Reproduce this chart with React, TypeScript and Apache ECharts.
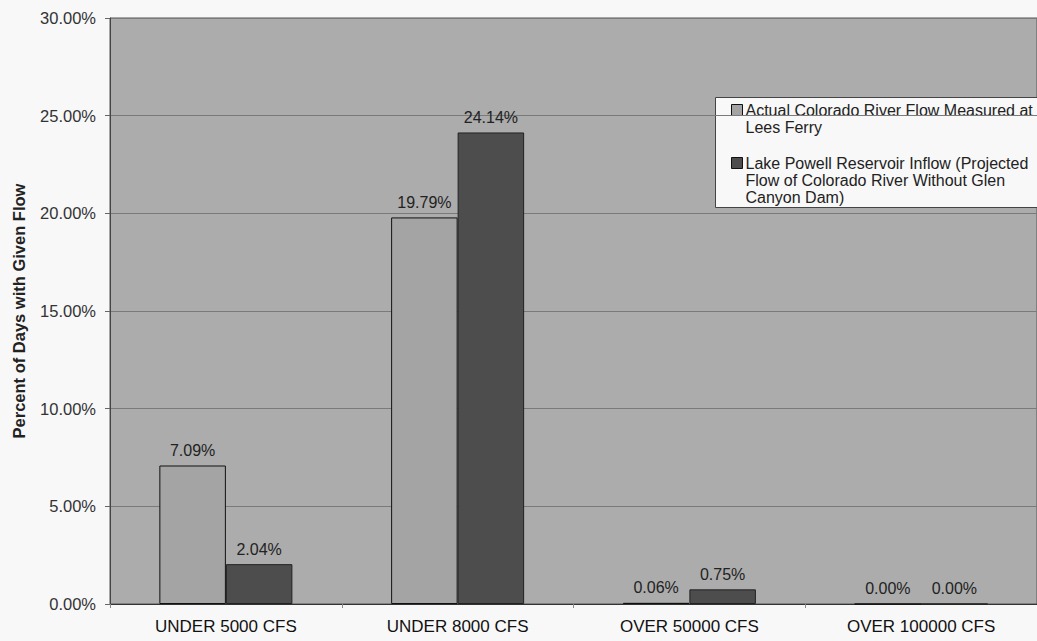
import React, { useEffect, useRef } from "react";
import * as echarts from "echarts";

const categories = ["UNDER 5000 CFS", "UNDER 8000 CFS", "OVER 50000 CFS", "OVER 100000 CFS"];
const actualFlow = [7.09, 19.79, 0.06, 0.0];
const projectedInflow = [2.04, 24.14, 0.75, 0.0];
const actualName = "Actual Colorado River Flow Measured at Lees Ferry";
const projectedName = "Lake Powell Reservoir Inflow (Projected Flow of Colorado River Without Glen Canyon Dam)";
const actualLegendLines = ["Actual Colorado River Flow Measured at", "Lees Ferry"];
const projectedLegendLines = ["Lake Powell Reservoir Inflow (Projected", "Flow of Colorado River Without Glen", "Canyon Dam)"];

const FONT = 'Arial, "Liberation Sans", sans-serif';
const LIGHT = "#a4a4a4";
const DARK = "#4d4d4d";

export default function App() {
  const ref = useRef<HTMLDivElement>(null);

  useEffect(() => {
    if (!ref.current) return;
    const chart = echarts.init(ref.current, null, { renderer: "svg" });
    const pct = (v: number) => v.toFixed(2) + "%";
    const barLabel = {
      show: true,
      position: "top",
      distance: 7,
      fontSize: 16,
      fontFamily: FONT,
      color: "#222",
      formatter: (p: any) => pct(p.value),
    };
    chart.setOption({
      animation: false,
      backgroundColor: "#f8f8f8",
      textStyle: { fontFamily: FONT },
      grid: {
        left: 110,
        top: 18,
        right: -21,
        bottom: 37,
        show: true,
        backgroundColor: "#acacac",
        borderColor: "#555",
        borderWidth: 1,
      },
      xAxis: {
        type: "category",
        data: categories,
        axisLine: { lineStyle: { color: "#333", width: 1 } },
        axisTick: { show: true, length: 4, lineStyle: { color: "#888" } },
        axisLabel: { fontSize: 17, color: "#111", margin: 14, fontFamily: FONT },
      },
      yAxis: {
        type: "value",
        min: 0,
        max: 30,
        interval: 5,
        name: "Percent of Days with Given Flow",
        nameLocation: "middle",
        nameGap: 83,
        nameRotate: 90,
        nameTextStyle: { fontSize: 16.5, fontWeight: "bold", color: "#222", fontFamily: FONT },
        axisLine: { show: true, lineStyle: { color: "#444" } },
        axisTick: { show: true, length: 5, lineStyle: { color: "#666" } },
        axisLabel: { fontSize: 16.5, color: "#333", margin: 14, fontFamily: FONT, formatter: (v: number) => pct(v) },
        splitLine: { show: true, lineStyle: { color: "#7a7a7a", width: 1 } },
      },
      series: [
        {
          name: actualName,
          type: "bar",
          data: actualFlow,
          barGap: "0%",
          barCategoryGap: "42.6%",
          itemStyle: { color: LIGHT, borderColor: "#111", borderWidth: 1 },
          label: barLabel,
        },
        {
          name: projectedName,
          type: "bar",
          data: projectedInflow,
          itemStyle: { color: DARK, borderColor: "#222", borderWidth: 1 },
          label: barLabel,
        },
      ],
      graphic: [
        {
          type: "group",
          left: 715,
          top: 97,
          children: [
            {
              type: "rect",
              shape: { x: 0, y: 0, width: 340, height: 110 },
              style: { fill: "#f8f8f8", stroke: "#444", lineWidth: 1 },
            },
            {
              type: "rect",
              shape: { x: 16, y: 7, width: 11, height: 11 },
              style: { fill: LIGHT, stroke: "#111", lineWidth: 1 },
            },
            {
              type: "text",
              x: 30,
              y: 4.5,
              style: {
                text: actualLegendLines.join("\n"),
                fontSize: 16,
                lineHeight: 17,
                fontFamily: FONT,
                fill: "#222",
              },
            },
            {
              type: "rect",
              shape: { x: 16, y: 60, width: 11, height: 11 },
              style: { fill: DARK, stroke: "#111", lineWidth: 1 },
            },
            {
              type: "text",
              x: 30,
              y: 57.5,
              style: {
                text: projectedLegendLines.join("\n"),
                fontSize: 16,
                lineHeight: 17,
                fontFamily: FONT,
                fill: "#222",
              },
            },
          ],
        },
      ],
    });
    return () => chart.dispose();
  }, []);

  return (
    <div style={{ position: "fixed", left: 0, top: 0, width: 1037, height: 641, overflow: "hidden" }}>
      <div ref={ref} style={{ width: 1037, height: 641 }} />
    </div>
  );
}
